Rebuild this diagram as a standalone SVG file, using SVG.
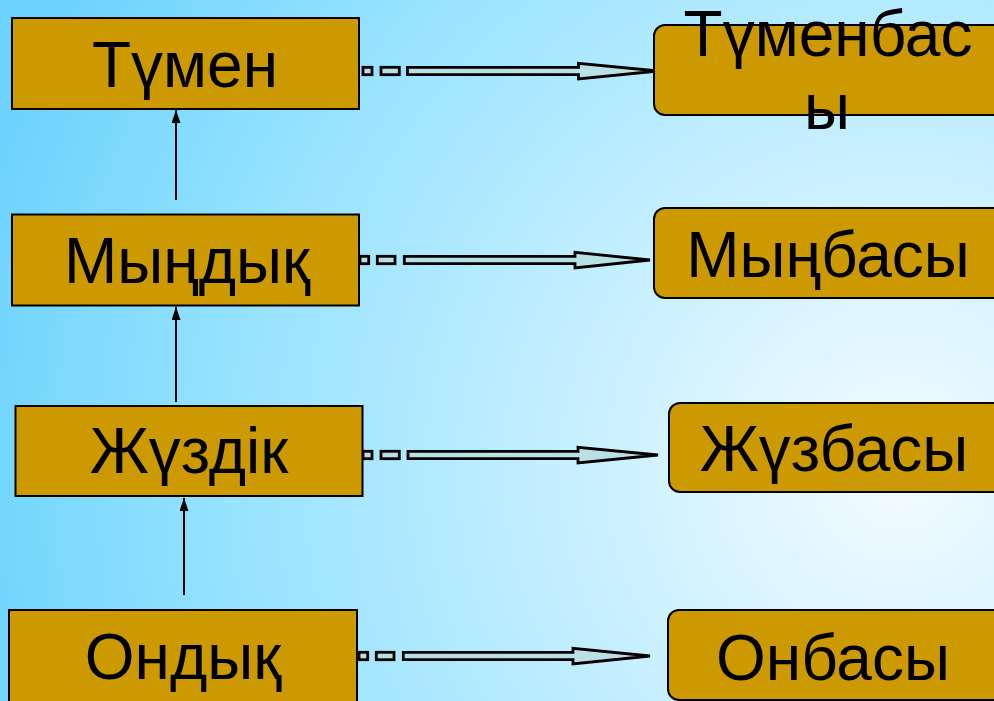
<svg xmlns="http://www.w3.org/2000/svg" width="994" height="701" viewBox="0 0 994 701">
<defs>
<radialGradient id="bg" gradientUnits="userSpaceOnUse" cx="900" cy="470" r="950">
<stop offset="0" stop-color="#f4fcff"/>
<stop offset="0.35" stop-color="#c6efff"/>
<stop offset="0.7" stop-color="#97e3ff"/>
<stop offset="1" stop-color="#6ed3fc"/>
</radialGradient>
<marker id="ah" viewBox="0 0 13 9" refX="13" refY="4.5" markerWidth="13" markerHeight="9" markerUnits="userSpaceOnUse" orient="auto">
<path d="M0,0 L13,4.5 L0,9 Z" fill="#000"/>
</marker>
</defs>
<style>
.box{fill:#cc9900;stroke:#000;stroke-width:2}
.lbl{font-family:"Liberation Sans",Arial,sans-serif;font-size:64px;fill:#000;text-anchor:middle}
.blk{fill:#b9e0e4;stroke:#000;stroke-width:2.8;stroke-linejoin:miter}
.up{stroke:#000;stroke-width:2;fill:none}
</style>
<rect width="994" height="701" fill="url(#bg)"/>

<g id="connectors">
<line class="up" x1="176" y1="200" x2="176" y2="110" marker-end="url(#ah)"/>
<line class="up" x1="176" y1="402" x2="176" y2="307" marker-end="url(#ah)"/>
<line class="up" x1="184" y1="595" x2="184" y2="498" marker-end="url(#ah)"/>

<g id="arrow-tumen">
<rect class="blk" x="363" y="67.3" width="9" height="7.4"/>
<rect class="blk" x="381" y="67.3" width="18.3" height="7.4"/>
<path class="blk" d="M407.5,67.3 L578.5,67.3 L578.5,63.3 L658,71 L578.5,79 L578.5,74.7 L407.5,74.7 Z"/>
</g>
<g id="arrow-myn">
<rect class="blk" x="360" y="256.3" width="8.7" height="7.4"/>
<rect class="blk" x="377.3" y="256.3" width="17.7" height="7.4"/>
<path class="blk" d="M404.3,256.3 L575,256.3 L575,252.3 L650,260 L575,268 L575,263.7 L404.3,263.7 Z"/>
</g>
<g id="arrow-zhuz">
<rect class="blk" x="363" y="451.3" width="9" height="7.4"/>
<rect class="blk" x="381" y="451.3" width="18.3" height="7.4"/>
<path class="blk" d="M408,451.3 L578,451.3 L578,447.3 L658,455 L578,463 L578,458.7 L408,458.7 Z"/>
</g>
<g id="arrow-on">
<rect class="blk" x="359" y="652.3" width="8.7" height="7.4"/>
<rect class="blk" x="376.3" y="652.3" width="17.7" height="7.4"/>
<path class="blk" d="M403.3,652.3 L573,652.3 L573,648.3 L650,656 L573,664 L573,659.7 L403.3,659.7 Z"/>
</g>
</g>

<g id="node-tumen">
<rect class="box" x="12" y="18" width="347" height="91"/>
<text class="lbl" x="185" y="87">Түмен</text>
</g>
<g id="node-myndyk">
<rect class="box" x="12" y="214.5" width="347" height="91"/>
<text class="lbl" x="187" y="283">Мыңдық</text>
</g>
<g id="node-zhuzdik">
<rect class="box" x="15.5" y="406" width="347" height="90"/>
<text class="lbl" x="189" y="473">Жүздік</text>
</g>
<g id="node-ondyk">
<rect class="box" x="9" y="610" width="348" height="92"/>
<text class="lbl" x="183" y="679">Ондық</text>
</g>

<g id="node-tumenbasy">
<rect class="box" x="654" y="25" width="350" height="90" rx="11"/>
<text class="lbl" x="828" y="56">Түменбас</text>
<text class="lbl" x="827" y="129">ы</text>
</g>
<g id="node-mynbasy">
<rect class="box" x="654" y="208" width="350" height="90" rx="11"/>
<text class="lbl" x="828" y="277">Мыңбасы</text>
</g>
<g id="node-zhuzbasy">
<rect class="box" x="669" y="403" width="335" height="89" rx="11"/>
<text class="lbl" x="834" y="471">Жүзбасы</text>
</g>
<g id="node-onbasy">
<rect class="box" x="668" y="610" width="336" height="90" rx="11"/>
<text class="lbl" x="833" y="680">Онбасы</text>
</g>
</svg>
